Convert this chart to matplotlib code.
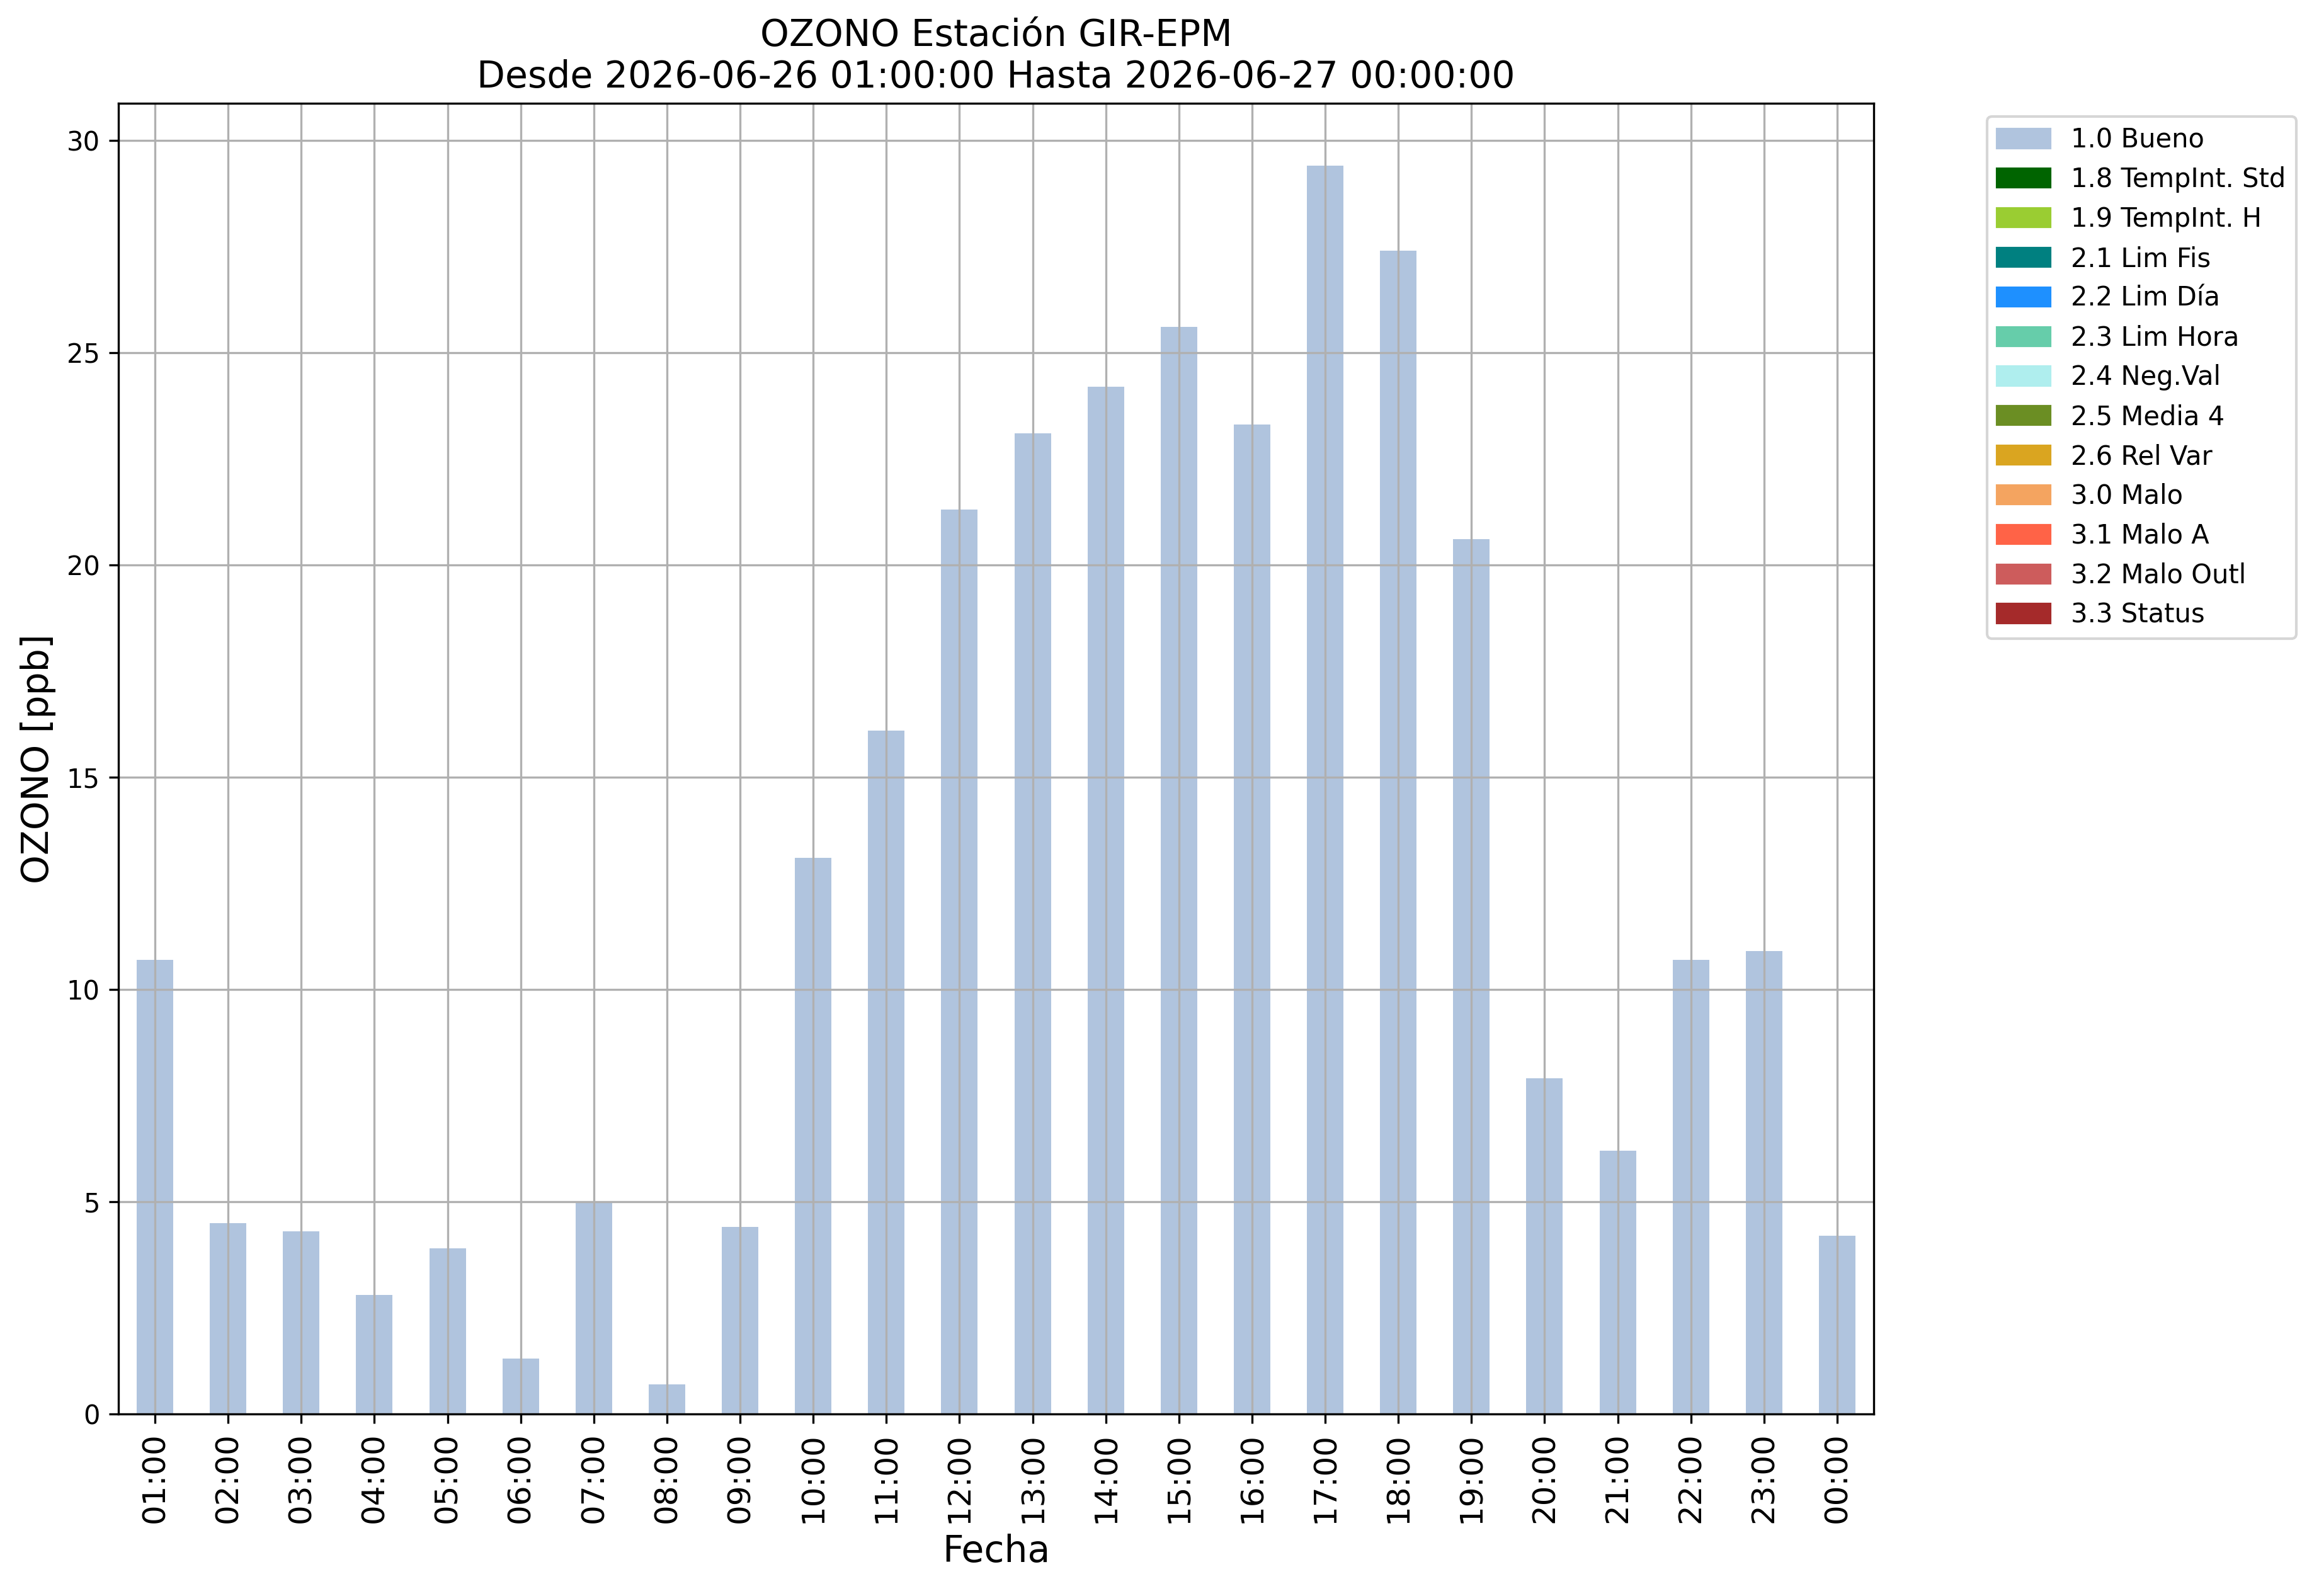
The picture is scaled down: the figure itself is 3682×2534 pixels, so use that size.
import numpy as np
import matplotlib
matplotlib.use("Agg")
import matplotlib.pyplot as plt
import matplotlib.patches as mpatches

# hourly ozone values
horas = ["01:00", "02:00", "03:00", "04:00", "05:00", "06:00", "07:00", "08:00",
         "09:00", "10:00", "11:00", "12:00", "13:00", "14:00", "15:00", "16:00",
         "17:00", "18:00", "19:00", "20:00", "21:00", "22:00", "23:00", "00:00"]
ozono = [10.7, 4.5, 4.3, 2.8, 3.9, 1.3, 5.0, 0.7, 4.4, 13.1, 16.1, 21.3,
         23.1, 24.2, 25.6, 23.3, 29.4, 27.4, 20.6, 7.9, 6.2, 10.7, 10.9, 4.2]

# quality flags for the legend
flags = ["1.0 Bueno", "1.8 TempInt. Std", "1.9 TempInt. H", "2.1 Lim Fis",
         "2.2 Lim Día", "2.3 Lim Hora", "2.4 Neg.Val", "2.5 Media 4",
         "2.6 Rel Var", "3.0 Malo", "3.1 Malo A", "3.2 Malo Outl", "3.3 Status"]
flag_colors = ["lightsteelblue", "darkgreen", "yellowgreen", "teal", "dodgerblue",
               "mediumaquamarine", "paleturquoise", "olivedrab", "goldenrod",
               "sandybrown", "tomato", "indianred", "brown"]

fig = plt.figure(figsize=(3682 / 300, 2534 / 300), dpi=300)
ax = fig.add_axes([188 / 3682, 1 - 2245 / 2534, (2975 - 188) / 3682, (2245 - 164) / 2534])

x = np.arange(len(horas))
ax.bar(x, ozono, width=0.5, color=flag_colors[0])
ax.set_xlim(-0.5, len(horas) - 0.5)
ax.set_ylim(0, max(ozono) * 1.05)
ax.set_xticks(x)
ax.set_xticklabels(horas, rotation=90, fontsize=12)
ax.tick_params(axis="y", labelsize=10)
ax.grid(True)

ax.set_xlabel("Fecha", fontsize=14)
ax.set_ylabel("OZONO [ppb]", fontsize=14)
ax.set_title("OZONO Estación GIR-EPM\nDesde 2026-06-26 01:00:00 Hasta 2026-06-27 00:00:00",
             fontsize=14)

handles = [mpatches.Patch(color=c, label=l) for l, c in zip(flags, flag_colors)]
ax.legend(handles=handles, loc="upper left", bbox_to_anchor=(1.057, 1), fontsize=10)

fig.savefig("out.png", dpi=300)
